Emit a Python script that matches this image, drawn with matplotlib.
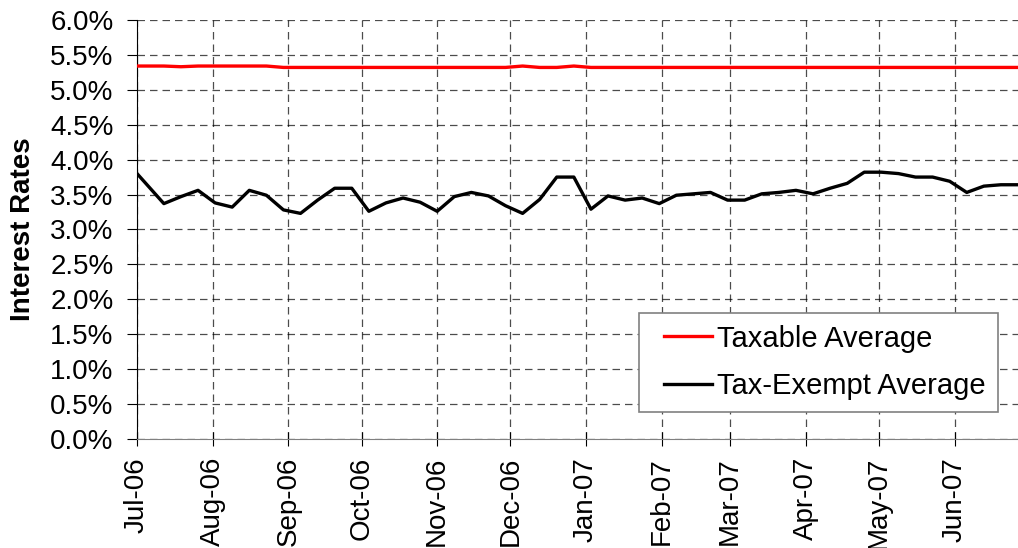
import numpy as np
import pandas as pd
import matplotlib
matplotlib.use("Agg")
import matplotlib.pyplot as plt
import matplotlib.dates as mdates
from matplotlib.lines import Line2D
from matplotlib.legend_handler import HandlerLine2D
from matplotlib.ticker import PercentFormatter, MultipleLocator

plt.rcParams['font.family'] = ['Liberation Sans', 'DejaVu Sans']

# weekly readings (first point at month start, then Wednesdays)
dates = [pd.Timestamp("2006-07-01")] + list(pd.date_range("2006-07-12", "2007-06-27", freq="W-WED"))

taxable = [5.34, 5.34, 5.33, 5.34,
           5.34, 5.34, 5.34, 5.34, 5.32,
           5.32, 5.32, 5.32, 5.32,
           5.32, 5.32, 5.32, 5.32,
           5.32, 5.32, 5.32, 5.32, 5.32,
           5.34, 5.32, 5.32, 5.34,
           5.32, 5.32, 5.32, 5.32, 5.32,
           5.32, 5.32, 5.32, 5.32,
           5.32, 5.32, 5.32, 5.32,
           5.32, 5.32, 5.32, 5.32,
           5.32, 5.32, 5.32, 5.32, 5.32,
           5.32, 5.32, 5.32, 5.32]

tax_exempt = [3.80, 3.37, 3.47, 3.56,
              3.38, 3.32, 3.56, 3.49, 3.28,
              3.23, 3.42, 3.59, 3.59,
              3.26, 3.38, 3.45, 3.39,
              3.26, 3.47, 3.53, 3.48, 3.34,
              3.23, 3.43, 3.75, 3.75,
              3.29, 3.48, 3.42, 3.45, 3.37,
              3.49, 3.51, 3.53, 3.42,
              3.42, 3.51, 3.53, 3.56,
              3.51, 3.59, 3.66, 3.82,
              3.82, 3.80, 3.75, 3.75, 3.69,
              3.53, 3.62, 3.64, 3.64]

fig = plt.figure(figsize=(10.18, 5.48), dpi=100)
ax = fig.add_axes([0.1346, 0.199, 0.8654, 0.7646])

ax.plot(dates, taxable, color='#ff0000', lw=2.4, label='Taxable Average', zorder=3)
ax.plot(dates, tax_exempt, color='black', lw=2.4, label='Tax-Exempt Average', zorder=3)

ax.set_xlim(dates[0], dates[-1])
ax.set_ylim(0, 6.0)
ax.yaxis.set_major_locator(MultipleLocator(0.5))
ax.yaxis.set_major_formatter(PercentFormatter(xmax=100, decimals=1))
ax.xaxis.set_major_locator(mdates.MonthLocator())
ax.xaxis.set_major_formatter(mdates.DateFormatter('%b-%y'))

ax.grid(True, color='black', linestyle=(0, (6, 4)), linewidth=0.9, alpha=0.7)
ax.set_axisbelow(True)

ax.spines['top'].set_visible(False)
ax.spines['right'].set_visible(False)
ax.spines['left'].set_color('black')
ax.spines['bottom'].set_color('#808080')

ax.tick_params(axis='y', labelsize=20, length=7, direction='out', pad=10)
ax.tick_params(axis='x', labelsize=20, length=10, direction='inout', rotation=90, pad=8)

ax.set_ylabel('Interest Rates', fontsize=20, fontweight='bold', labelpad=10)

# short handle with extra room on the left, like the original legend
leg = ax.legend(loc='lower right', bbox_to_anchor=(0.977, 0.064), borderaxespad=0,
                fontsize=21, frameon=True, fancybox=False, edgecolor='#808080',
                framealpha=1, handlelength=2.1, handletextpad=0.2,
                borderpad=0.4, labelspacing=0.68,
                handler_map={Line2D: HandlerLine2D(xpad=0.46)})
leg.get_frame().set_linewidth(1.2)

fig.savefig('out.png', dpi=100)
